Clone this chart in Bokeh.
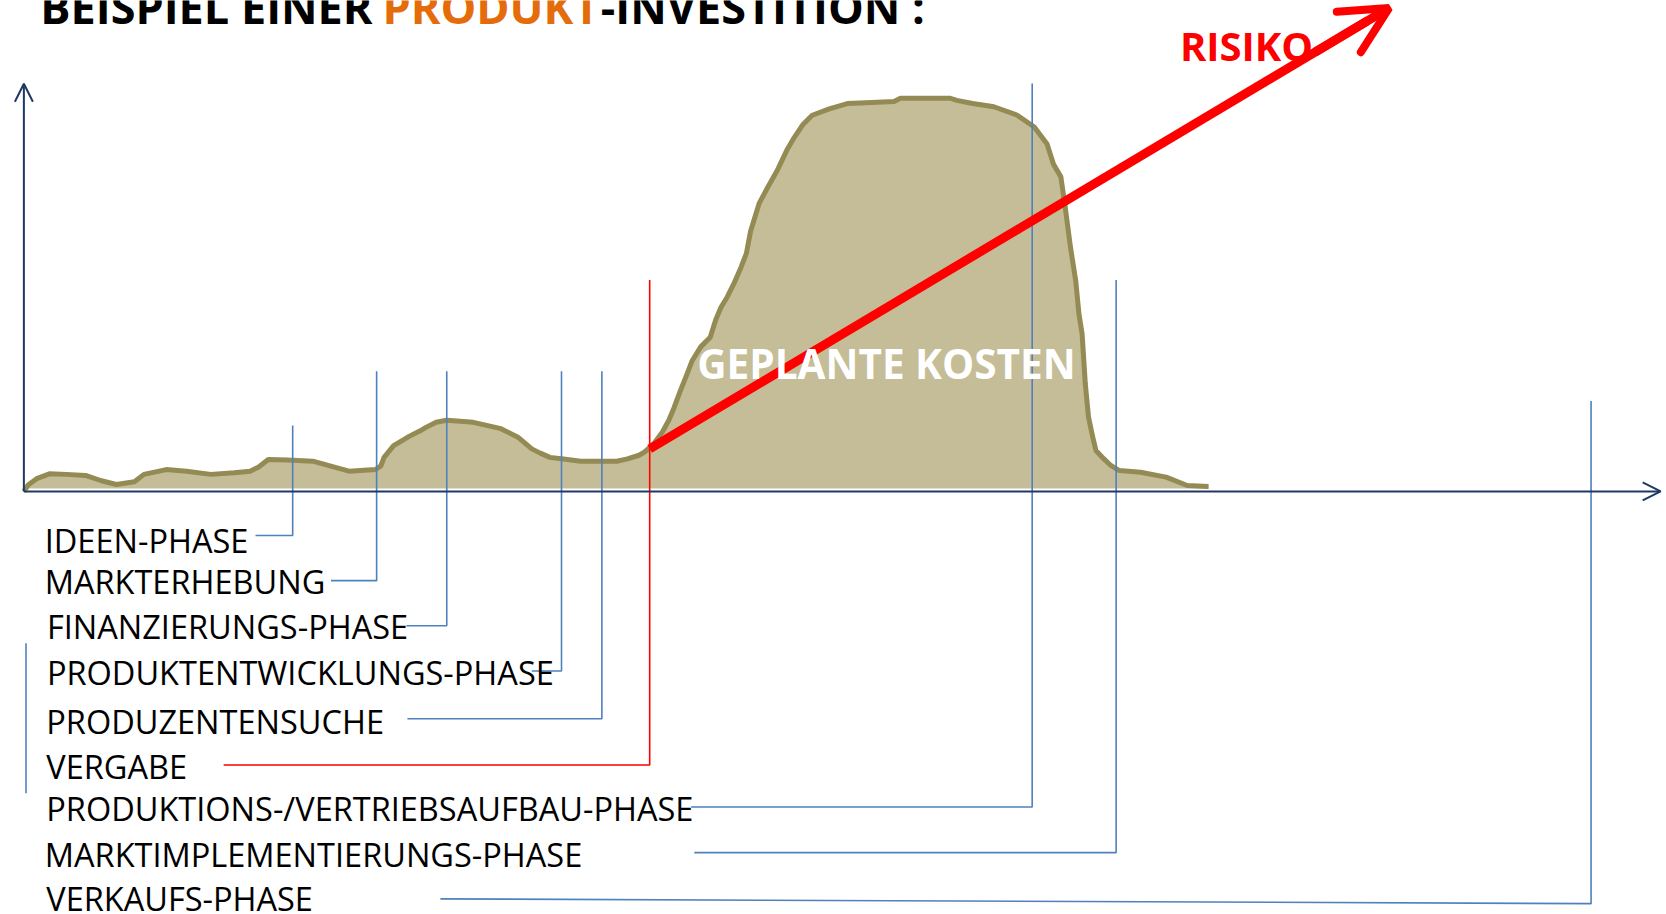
from bokeh.plotting import figure
from bokeh.models import Range1d, Arrow, OpenHead, ColumnDataSource
from bokeh.core.properties import value
from bokeh.embed import file_html
from bokeh.resources import INLINE

# ---------------- data ----------------
# planned cost curve (time on x, cost height above the time axis)
time = [22, 26, 34, 46, 62, 80, 95, 109, 126, 135, 156, 175, 198, 220, 235, 243, 252,
        270, 294, 310, 328, 353, 358, 361, 370, 385, 395, 400, 410, 420, 445, 471, 487,
        500, 508, 517, 530, 546, 565, 580, 590, 601, 606, 615, 623, 629, 634, 640, 645,
        651, 659, 668, 673, 678, 684, 690, 697, 702, 706, 714, 722, 731, 740, 747, 755,
        764, 780, 797, 820, 841, 847, 870, 894, 900, 915, 935, 957, 973, 985, 991, 998,
        1002, 1007, 1012, 1015, 1018, 1021, 1024, 1028, 1031, 1038, 1045, 1053, 1073,
        1097, 1117, 1137]
cost = [0, 6, 12, 16.5, 16, 15, 10, 6.5, 9, 16, 20.5, 19, 16, 17.5, 19, 23, 30,
        29.5, 28.4, 24, 19, 20.6, 24, 32, 43, 52, 57, 60, 65, 67, 65, 59, 51,
        40, 36, 32, 30.5, 28.4, 28.4, 28.4, 30.6, 34, 37, 45, 56, 67, 79, 95, 107.5,
        123, 136, 145, 161, 173, 183, 195, 211, 224, 245, 271, 286, 302, 321, 333, 345,
        354, 360, 365, 366, 367, 370, 370, 370, 368, 365, 362, 354, 343, 327, 308, 296,
        268, 230, 198, 167, 148, 101, 70, 51, 38.5, 31, 24.4, 19.6, 18,
        13.4, 5.5, 4.6]

phase_names = ["IDEEN-PHASE", "MARKTERHEBUNG", "FINANZIERUNGS-PHASE",
               "PRODUKTENTWICKLUNGS-PHASE", "PRODUZENTENSUCHE", "VERGABE",
               "PRODUKTIONS-/VERTRIEBSAUFBAU-PHASE", "MARKTIMPLEMENTIERUNGS-PHASE",
               "VERKAUFS-PHASE"]
phase_time = [275, 354, 420, 528, 566, 611, 971, 1050, 1497]
phase_top = [62, 113, 113, 113, 113, 199, 384, 199, 85]

risk_time = [611, 1307]
risk_level = [40, 455]

title_parts = ["BEISPIEL EINER ", "PRODUKT", "-INVESTITION :"]

# ---------------- layout / style ----------------
W, H = 1666, 914
S = 1.0625
BASE = 462.0
X0, X1 = 0, W / S
Y_TOP, Y_BOT = BASE, BASE - H / S

NAVY = "#1F3864"
BLUE = "#4F81BD"
RED = "#FF0000"
FILL = "#C4BD97"
EDGE = "#948A54"
ORANGE = "#E46C0A"

label_x = [41.6, 41.6, 43.7, 43.7, 43.1, 43.1, 43.1, 41.7, 43.1]
label_mid = [-46.2, -85, -127, -170, -216.9, -259.1, -298.8, -341.6, -383.5]
row_left = [-41.5, -84, -126.5, -169, -214, -257.5, -297, -340, -383.5]
row_right = [-41.5, -84, -126.5, -169, -214, -257.5, -297, -340, -388]
row_start = [240, 311, 382, 500, 383, 210, 650, 653, 414]
phase_colors = [BLUE] * 5 + [RED] + [BLUE] * 3

p = figure(width=W, height=H, x_range=Range1d(X0, X1), y_range=Range1d(Y_BOT, Y_TOP),
           output_backend="svg", toolbar_location=None, min_border=0,
           x_axis_type=None, y_axis_type=None)
p.grid.visible = False
p.outline_line_color = None
p.background_fill_color = "white"
p.border_fill_color = "white"

# cost area
p.varea(x=time, y1=[2.7] * len(time), y2=cost, fill_color=FILL)
p.line(x=time, y=cost, line_color=EDGE, line_width=5, line_join="round")

# axes (arrows)
p.add_layout(Arrow(end=OpenHead(size=18, line_color=NAVY, line_width=2),
                   x_start=22, y_start=0, x_end=1562.5, y_end=0,
                   line_color=NAVY, line_width=2))
p.add_layout(Arrow(end=OpenHead(size=18, line_color=NAVY, line_width=2),
                   x_start=22, y_start=0, x_end=22, y_end=BASE - 78.4,
                   line_color=NAVY, line_width=2))

# phase connectors
xs = [[s, t, t] for s, t in zip(row_start, phase_time)]
ys = [[a, b, c] for a, b, c in zip(row_left, row_right, phase_top)]
p.multi_line(xs=xs, ys=ys, line_color=phase_colors, line_width=1.6)
p.segment(x0=[24], y0=[BASE - 605], x1=[24], y1=[BASE - 746], line_color=BLUE, line_width=1.6)

# risk arrow shaft
f = 0.97
p.line(x=[risk_time[0], risk_time[0] + f * (risk_time[1] - risk_time[0])],
       y=[risk_level[0], risk_level[0] + f * (risk_level[1] - risk_level[0])],
       line_color=RED, line_width=9)
g = 0.9
p.add_layout(Arrow(end=OpenHead(size=47, line_color=RED, line_width=8, line_cap="round"),
                   x_start=risk_time[0] + g * (risk_time[1] - risk_time[0]),
                   y_start=risk_level[0] + g * (risk_level[1] - risk_level[0]),
                   x_end=risk_time[1], y_end=risk_level[1],
                   line_color=RED, line_width=9))

# texts
p.text(x=[833.8], y=[BASE - 342], text=["GEPLANTE KOSTEN"], text_font=value("Open Sans"),
       text_font_style="bold", text_font_size="40.5px", text_color="white",
       text_align="center", text_baseline="middle")

src = ColumnDataSource(dict(x=label_x, y=label_mid, t=phase_names))
p.text(x="x", y="y", text="t", source=src, text_font=value("Open Sans"),
       text_font_size="32.5px", text_color="black", text_baseline="middle")

p.text(x=[1110], y=[BASE - 42.5], text=["RISIKO"], text_font=value("Open Sans"),
       text_font_style="bold", text_font_size="40px", text_color=RED,
       text_baseline="middle")

p.text(x=[37.5, 359.5, 565], y=[BASE - 5.8] * 3, text=title_parts,
       text_font=value("Open Sans"), text_font_style="bold", text_font_size="45px",
       text_color=["black", ORANGE, "black"], text_baseline="middle")

open("out.html", "w").write(file_html(p, INLINE))
